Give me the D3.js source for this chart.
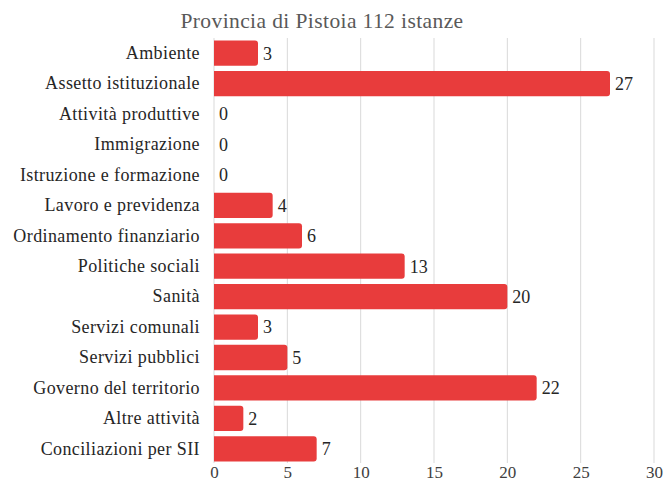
<!DOCTYPE html>
<html>
<head>
<meta charset="utf-8">
<script src="https://cdn.jsdelivr.net/npm/d3@7"></script>
<style>
  body { margin: 0; background: #fff; }
  svg text { font-family: "Liberation Serif", "DejaVu Serif", serif; }
</style>
</head>
<body>
<svg id="svgId"></svg>
<script>
var titolo = "Provincia di Pistoia 112 istanze";
var categorie = ["Ambiente", "Assetto istituzionale", "Attività produttive", "Immigrazione",
    "Istruzione e formazione", "Lavoro e previdenza", "Ordinamento finanziario",
    "Politiche sociali", "Sanità", "Servizi comunali", "Servizi pubblici",
    "Governo del territorio", "Altre attività", "Conciliazioni per SII"];
var valori = [3, 27, 0, 0, 0, 4, 6, 13, 20, 3, 5, 22, 2, 7];
var ticks = [0, 5, 10, 15, 20, 25, 30];

var svgWidth = 664, svgHeight = 484;

var svg = d3.select("#svgId")
    .attr("width", svgWidth)
    .attr("height", svgHeight);

// scala orizzontale
var x = d3.scaleLinear().domain([0, 30]).range([214, 654]);
// scala verticale
var y = d3.scaleBand().domain(categorie).range([38, 464]).paddingInner(0.17).paddingOuter(0.085);

// titolo
svg.append("text")
    .attr("x", 322).attr("y", 28)
    .attr("text-anchor", "middle")
    .attr("font-size", 21.5)
    .attr("letter-spacing", 0.4)
    .attr("fill", "#595959")
    .text(titolo);

// griglia
svg.append("g").selectAll("line")
    .data(ticks).enter().append("line")
    .attr("x1", function (d) { return x(d) }).attr("x2", function (d) { return x(d) })
    .attr("y1", 38).attr("y2", 463)
    .attr("stroke", "#d9d9d9").attr("stroke-width", 1);

// asse x
var ax = svg.append("g")
    .attr("transform", "translate(0,462)")
    .call(d3.axisBottom(x).tickValues(ticks).tickSize(0).tickPadding(4));
ax.select(".domain").remove();
ax.selectAll("text").attr("font-size", 17).attr("fill", "#404040")
    .style("font-family", "Liberation Serif, serif");

// etichette categorie
var ay = svg.append("g")
    .attr("transform", "translate(200,0)")
    .call(d3.axisLeft(y).tickSize(0).tickPadding(0));
ay.select(".domain").remove();
ay.selectAll("text").attr("font-size", 18).attr("letter-spacing", 0.4).attr("fill", "#262626")
    .style("font-family", "Liberation Serif, serif");

// barre
svg.append("g").selectAll("path")
    .data(valori).enter().append("path")
    .attr("fill", "#e83c3c")
    .attr("d", function (d, i) {
        if (d === 0) return "";
        var x0 = x(0), x1 = x(d), y0 = y(categorie[i]), h = y.bandwidth(), r = 3;
        return "M" + x0 + "," + y0 + "H" + (x1 - r) + "Q" + x1 + "," + y0 + " " + x1 + "," + (y0 + r)
            + "V" + (y0 + h - r) + "Q" + x1 + "," + (y0 + h) + " " + (x1 - r) + "," + (y0 + h)
            + "H" + x0 + "Z";
    });

// valori
svg.append("g").selectAll("text")
    .data(valori).enter().append("text")
    .attr("x", function (d) { return x(d) + 5 })
    .attr("y", function (d, i) { return y(categorie[i]) + y.bandwidth() / 2 })
    .attr("dy", "0.35em")
    .attr("font-size", 18)
    .attr("fill", "#262626")
    .text(function (d) { return d });
</script>
</body>
</html>
